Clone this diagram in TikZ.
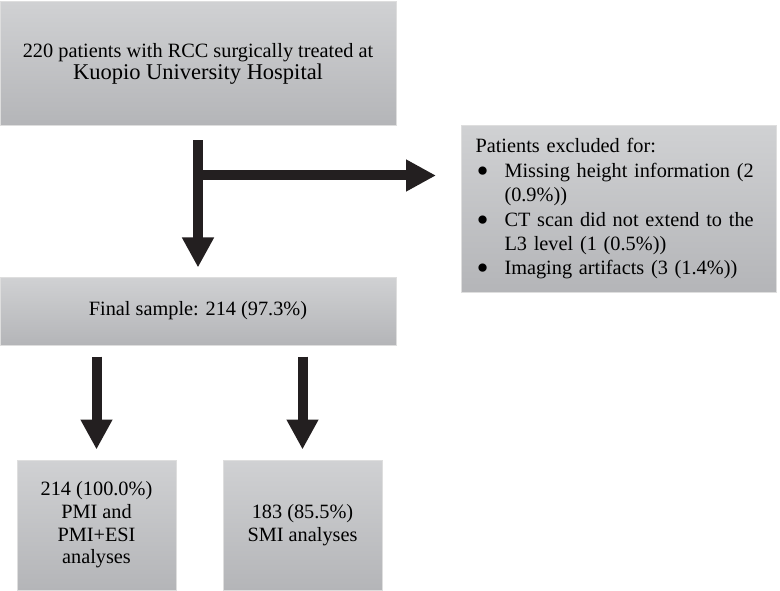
\documentclass[tikz,border=0pt]{standalone}
\usepackage{fontspec}
\setmainfont{Liberation Serif}
\usetikzlibrary{arrows.meta,positioning,calc}

\definecolor{boxtop}{RGB}{208,209,211}
\definecolor{boxbot}{RGB}{180,181,184}
\definecolor{boxline}{RGB}{222,222,222}
\definecolor{arrowink}{RGB}{35,31,32}

\newcommand{\bigbullet}{\hspace*{1pt}\raisebox{-5pt}{\scalebox{1.7}{\textbullet}}}

\begin{document}
\begin{tikzpicture}[x=1pt, y=-1pt,
    box/.style={draw=boxline, line width=1pt, top color=boxtop, bottom color=boxbot,
        align=center, inner sep=0pt, font=\fontsize{20.3}{22.7}\selectfont},
    bigarrow/.style={line width=10pt, draw=arrowink, -{Triangle[width=30pt,length=30pt]}}]
    \useasboundingbox (0,0) rectangle (780,591);

    % Boxes
    \node[box, minimum width=396pt, minimum height=124pt, font=\fontsize{20.3}{21.5}\selectfont] (treated) at (198,64)
        {220 patients with RCC surgically treated at\\{\fontsize{22.5}{21.5}\selectfont Kuopio University Hospital}};
    \node[box, minimum width=396pt, minimum height=68pt] (final) at (198,311) {Final sample: 214 (97.3\%)};
    \node[box, minimum width=159pt, minimum height=130pt] (pmi) at (96.5,525) {214 (100.0\%)\\PMI and\\PMI+ESI\\analyses};
    \node[box, minimum width=159pt, minimum height=130pt] (smi) at (302.5,525) {183 (85.5\%)\\SMI analyses};

    % Exclusions
    \node[box, anchor=north west, minimum height=167pt, text width=287pt, inner xsep=14pt, align=left,
        font=\fontsize{20.3}{24.4}\selectfont] (excluded) at (461,125)
        {\begin{tabular}{@{}p{29pt}@{}l@{}}
            \multicolumn{2}{@{}l@{}}{Patients excluded for:}\\
            \bigbullet & Missing height information (2\\
            & (0.9\%))\\
            \bigbullet & CT scan did not extend to the\\
            & L3 level (1 (0.5\%))\\
            \bigbullet & Imaging artifacts (3 (1.4\%))
        \end{tabular}};

    % Arrows
    \coordinate (split) at ($(treated.south)+(0,49)$);
    \draw[bigarrow, shorten <=14pt, shorten >=9pt] (treated.south) -- (final.north);
    \draw[bigarrow, shorten >=25pt] (split) -- (split -| excluded.west);
    \draw[bigarrow, shorten <=11pt, shorten >=10pt] (final.south -| pmi.north) -- (pmi.north);
    \draw[bigarrow, shorten <=11pt, shorten >=10pt] (final.south -| smi.north) -- (smi.north);
\end{tikzpicture}
\end{document}
